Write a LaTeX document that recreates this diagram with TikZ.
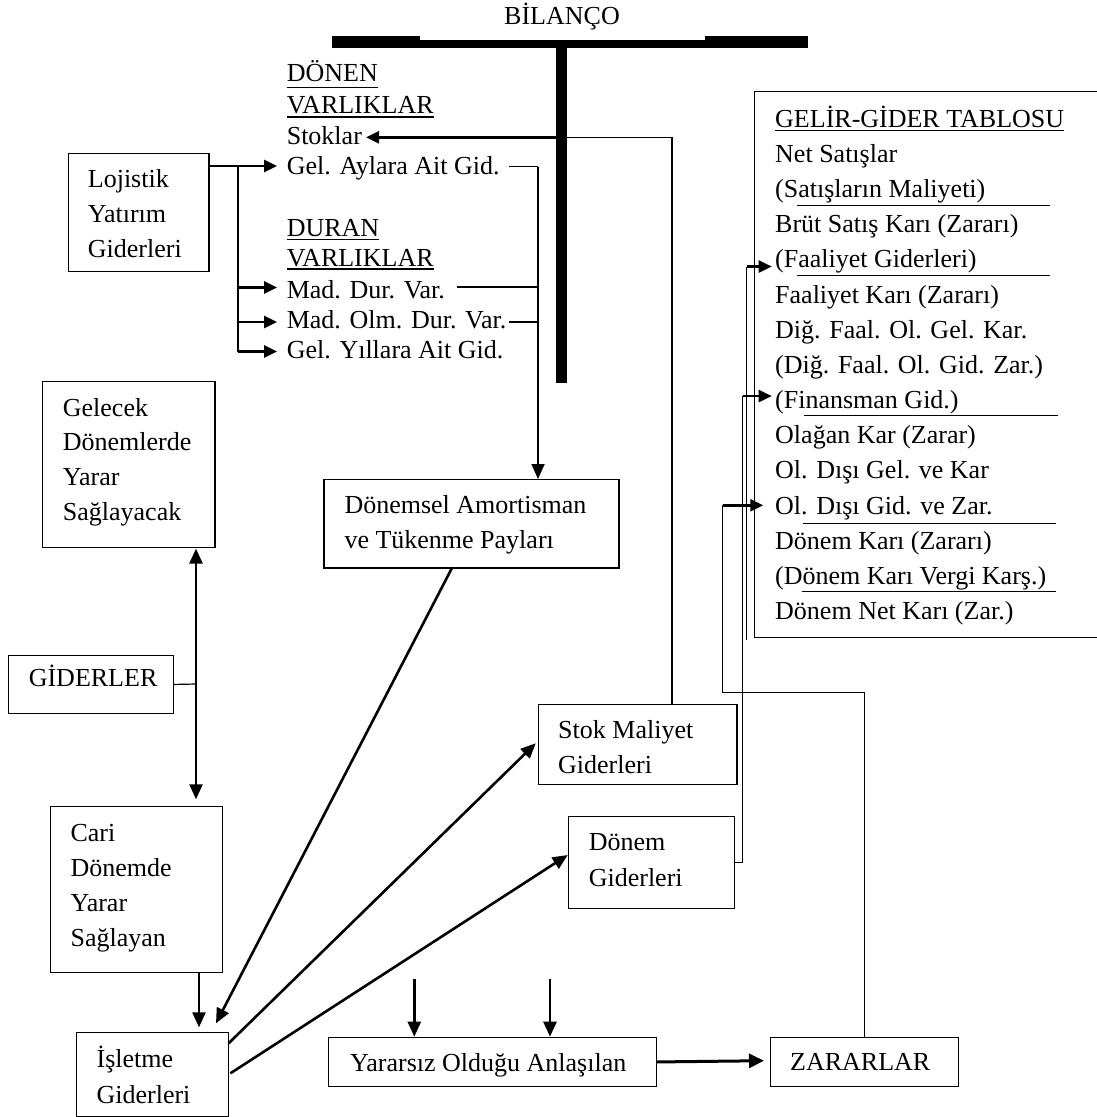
\documentclass[tikz,border=0pt]{standalone}
\usepackage{fontspec}
\setmainfont{Liberation Serif}
\usetikzlibrary{arrows.meta}
\begin{document}
\begin{tikzpicture}[x=1pt,y=-1pt,
  txt/.style={inner sep=0pt, anchor=base west, font=\fontsize{26}{30}\selectfont},
  box/.style={draw, line width=1.2pt, inner sep=0pt, anchor=north west},
  conn/.style={line width=1.2pt},
  heavy/.style={line width=2.6pt},
  arr/.style={line width=2.6pt, -{Triangle[length=15pt,width=13pt]}},
  sarr/.style={line width=2.6pt, -{Triangle[length=13pt,width=12pt]}},
  uline/.style={line width=1.3pt},
  rulel/.style={line width=1.2pt}
]
\fill[white] (0,0) rectangle (1096,1117);
\useasboundingbox (0,0) rectangle (1096,1117);

% ---- balance sheet T ----
\node[txt, anchor=base] (bilanco) at (562,24) {BİLANÇO};
\fill (332,36) rectangle (419.5,48.3);
\fill (419.5,39.5) rectangle (705,48.3);
\fill (705,36) rectangle (808,48.3);
\node[fill, inner sep=0pt, minimum width=11pt, minimum height=335pt, anchor=north] (stem) at (561.5,48) {};

% ---- asset entries ----
\node[txt] (donenH) at (286.6,81.7) {DÖNEN};
\node[txt] (donenV) at (286.6,113.3) {VARLIKLAR};
\node[txt] (stoklar) at (286.6,144) {Stoklar};
\node[txt] (aylara) at (286.6,174) {Gel. Aylara Ait Gid.};
\node[txt] (duranH) at (286.6,236.7) {DURAN};
\node[txt] (duranV) at (286.6,266.7) {VARLIKLAR};
\node[txt] (maddur) at (286.6,298.3) {Mad. Dur. Var.};
\node[txt] (madolm) at (286.6,328.3) {Mad. Olm. Dur. Var.};
\node[txt] (yillara) at (286.6,358.3) {Gel. Yıllara Ait Gid.};
\foreach \n/\d in {donenH/5.6, donenV/3.6, duranH/3, duranV/2.2}
  \draw[uline] ([yshift=-\d pt]\n.base west) -- ([yshift=-\d pt]\n.base east);

% ---- boxes ----
\node[box, minimum width=140.6pt, minimum height=117.8pt] (loj) at (67.7,152.9) {};
\node[txt] (loj1) at (87.7,187.9) {Lojistik};
\node[txt] (loj2) at (87.7,222.9) {Yatırım};
\node[txt] (loj3) at (87.7,257.5) {Giderleri};

\node[box, minimum width=172.6pt, minimum height=166.1pt] (gel) at (41.7,380.7) {};
\node[txt] (gel1) at (62.7,416.4) {Gelecek};
\node[txt] (gel2) at (62.7,450.6) {Dönemlerde};
\node[txt] (gel3) at (62.7,485.5) {Yarar};
\node[txt] (gel4) at (62.7,520) {Sağlayacak};

\node[box, minimum width=164.6pt, minimum height=57.7pt] (gid) at (7.9,655) {};
\node[txt] (gid1) at (28.6,686.7) {GİDERLER};

\node[box, minimum width=172pt, minimum height=166pt] (cari) at (50,806) {};
\node[txt] (cari1) at (70.4,841) {Cari};
\node[txt] (cari2) at (70.4,876.3) {Dönemde};
\node[txt] (cari3) at (70.4,911.5) {Yarar};
\node[txt] (cari4) at (70.4,946.7) {Sağlayan};

\node[box, minimum width=152.2pt, minimum height=84.3pt] (isl) at (75.7,1031.7) {};
\node[txt] (isl1) at (96.4,1067.3) {İşletme};
\node[txt] (isl2) at (96.4,1103.3) {Giderleri};

\node[box, minimum width=295pt, minimum height=88.3pt] (amort) at (323.3,479) {};
\node[txt] (amort1) at (344.3,513.3) {Dönemsel Amortisman};
\node[txt] (amort2) at (344.3,548.3) {ve Tükenme Payları};

\node[box, minimum width=198.4pt, minimum height=80pt] (stok) at (538,704) {};
\node[txt] (stok1) at (558,738.3) {Stok Maliyet};
\node[txt] (stok2) at (558,773.3) {Giderleri};

\node[box, minimum width=166.3pt, minimum height=92pt] (donem) at (567.7,816) {};
\node[txt] (donem1) at (588.6,850.7) {Dönem};
\node[txt] (donem2) at (588.6,886) {Giderleri};

\node[box, minimum width=328pt, minimum height=49.3pt] (yarar) at (328,1036.7) {};
\node[txt] (yarar1) at (350,1071) {Yararsız Olduğu Anlaşılan};

\node[box, minimum width=188pt, minimum height=49.3pt] (zarar) at (770,1036.7) {};
\node[txt] (zarar1) at (790,1070.7) {ZARARLAR};

% ---- income statement ----
\node[box, minimum width=360pt, minimum height=546pt] (tablo) at (754,91) {};
\node[txt] (t0) at (775,127.2) {GELİR-GİDER TABLOSU};
\draw[uline] ([yshift=-3pt]t0.base west) -- ([yshift=-3pt]t0.base east);
\node[txt] (t1) at (775,162.4) {Net Satışlar};
\node[txt] (t2) at (775,197.5) {(Satışların Maliyeti)};
\node[txt] (t3) at (775,232.7) {Brüt Satış Karı (Zararı)};
\node[txt] (t4) at (775,267.9) {(Faaliyet Giderleri)};
\node[txt] (t5) at (775,303.0) {Faaliyet Karı (Zararı)};
\node[txt] (t6) at (775,338.2) {Diğ. Faal. Ol. Gel. Kar.};
\node[txt] (t7) at (775,373.4) {(Diğ. Faal. Ol. Gid. Zar.)};
\node[txt] (t8) at (775,408.6) {(Finansman Gid.)};
\node[txt] (t9) at (775,443.7) {Olağan Kar (Zarar)};
\node[txt] (t10) at (775,478.9) {Ol. Dışı Gel. ve Kar};
\node[txt] (t11) at (775,514.1) {Ol. Dışı Gid. ve Zar.};
\node[txt] (t12) at (775,549.2) {Dönem Karı (Zararı)};
\node[txt] (t13) at (775,584.4) {(Dönem Karı Vergi Karş.)};
\node[txt] (t14) at (775,619.6) {Dönem Net Karı (Zar.)};
\draw[rulel] (796.7,205.7) -- (1050,205.7);
\draw[rulel] (796.7,275.6) -- (1050,275.6);
\draw[rulel] (804,415.4) -- (1058.3,415.4);
\draw[rulel] (802.7,523.2) -- (1056,523.2);
\draw[rulel] (801.7,591.4) -- (1056,591.4);

% ---- Lojistik bracket ----
\coordinate (bT) at (238,166);
\coordinate (bM1) at (238,287.5);
\coordinate (bM2) at (238,322);
\coordinate (bB) at (238,351.5);
\draw[heavy] (loj.east |- bT) -- (bT);
\draw[conn] (bT) -- (bB);
\draw[sarr] (bT) -- (277,166);
\draw[sarr] (bM1) -- (277,287.5);
\draw[sarr] (bM2) -- (277,322);
\draw[sarr] (bB) -- (277,351.5);

% ---- assets to amortization ----
\coordinate (vA) at (538,166.7);
\draw[conn] (509,166.7) -- (vA);
\draw[conn] (456.6,287) -- (538,287);
\draw[conn] (509,322) -- (538,322);
\draw[line width=1.8pt, -{Triangle[length=15pt,width=13pt]}] (vA) -- (vA |- amort.north);

% ---- stock costs back to Stoklar ----
\coordinate (sk) at (672,137.3);
\draw[conn] (stok.north -| sk) -- (sk) -- (stem.east |- sk);
\draw[sarr] (stem.west |- sk) -- (366,137.3);

% ---- expenses ----
\coordinate (gv) at (196,684);
\draw[conn] (gid.east) -- (gv);
\draw[line width=2.6pt, {Triangle[length=15pt,width=13pt]}-{Triangle[length=15pt,width=13pt]}] (196,548.6) -- (196,799.3);
\draw[arr] (199,972) -- (199,1027.3);
\draw[arr] (452.3,567.3) -- (216,1023.3);
\draw[arr] (228.6,1043.3) -- (535.7,743.3);
\draw[arr] (230.4,1073.3) -- (567.7,855);
\draw[arr] (414.3,979) -- (414.3,1036.7);
\draw[arr] (550,979) -- (550,1036.7);
\draw[line width=3pt, -{Triangle[length=15pt,width=14pt]}] (yarar.east) -- (764,1060.7);

% ---- links to the income statement ----
\coordinate (zl) at (722.7,692.3);
\coordinate (zo) at (722.7,505.3);
\draw[conn] (zarar.north) |- (zl) -- (zo);
\draw[sarr] (zo) -- (763.3,505.3);
\coordinate (df) at (742.5,396);
\draw[conn] (donem.east) -| (df);
\draw[sarr] (df) -- (771.7,396);
\coordinate (fa) at (746.5,266.5);
\draw[conn] (746.5,640) -- (fa);
\draw[sarr] (fa) -- (771.7,266.5);
\end{tikzpicture}
\end{document}
